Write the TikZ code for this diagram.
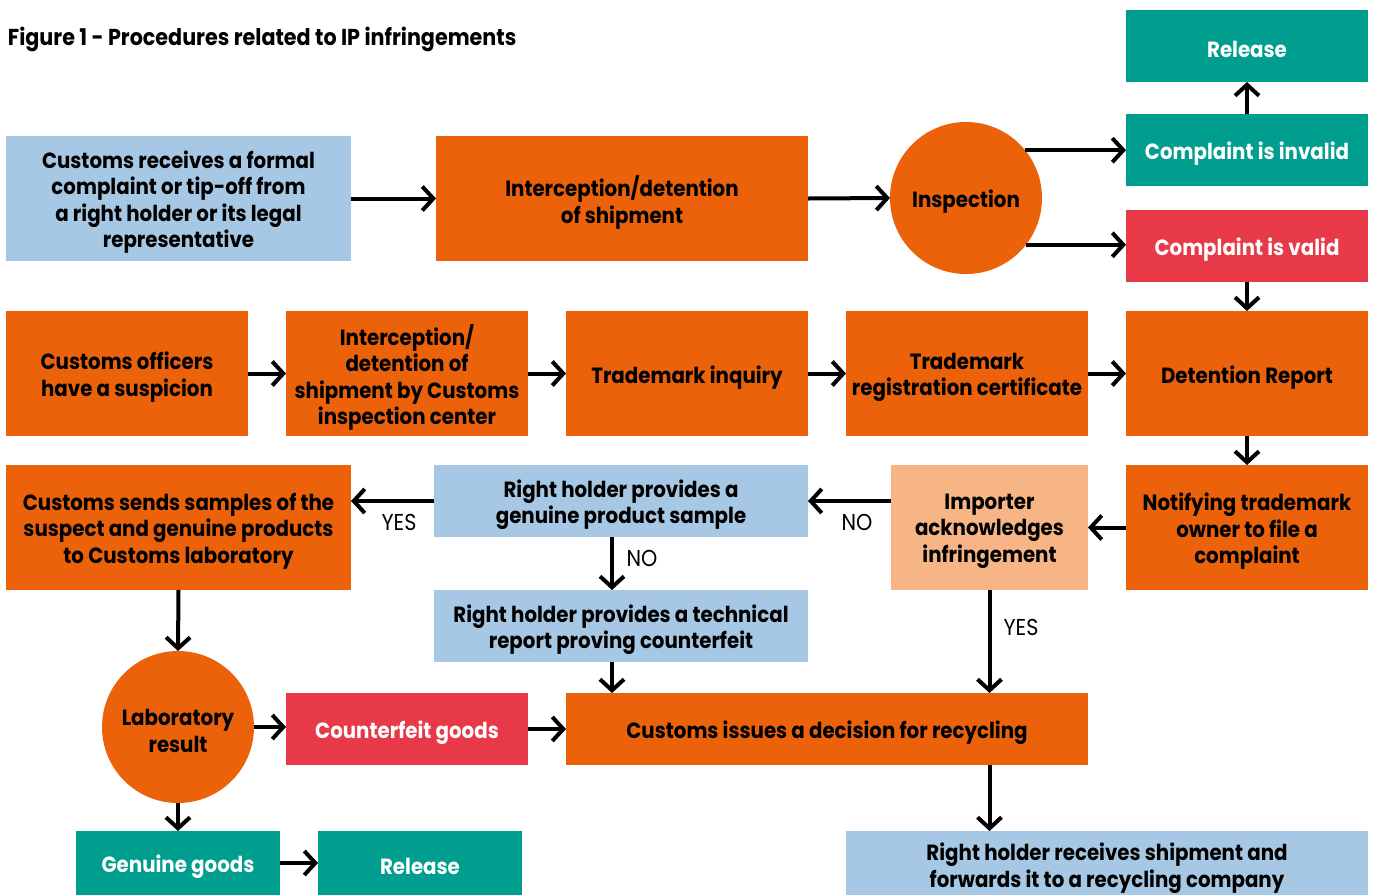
\documentclass[tikz,border=0pt]{standalone}
\usepackage{fontspec}
\setmainfont{Poppins}[FakeStretch=0.9]
\usetikzlibrary{arrows.meta}
\definecolor{cOrange}{RGB}{235,98,10}
\definecolor{cBlue}{RGB}{166,200,228}
\definecolor{cTeal}{RGB}{0,158,143}
\definecolor{cRed}{RGB}{232,57,72}
\definecolor{cPeach}{RGB}{247,181,133}
\begin{document}
\begin{tikzpicture}[x=1pt,y=-1pt,
  every node/.style={inner sep=0pt, outer sep=0pt},
  box/.style={rectangle},
  ofill/.style={fill=cOrange},
  bfill/.style={fill=cBlue},
  tfill/.style={fill=cTeal},
  rfill/.style={fill=cRed},
  pfill/.style={fill=cPeach},
  circ/.style={circle, fill=cOrange, minimum size=152pt},
  txt/.style={align=center, font=\bfseries\fontsize{22}{26.5}\selectfont},
  wtxt/.style={txt, text=white},
  arr/.style={line width=4pt, -{Straight Barb[length=11pt,width=24pt]}},
  lbl/.style={font=\fontsize{23}{26}\selectfont, anchor=center}
]
\useasboundingbox (0,0) rectangle (1375,895);

\node[anchor=base west, font=\bfseries\fontsize{23}{28}\selectfont] (title) at (8,45) {Figure 1 - Procedures related to IP infringements};

% row 1
\node[box,bfill,minimum width=345pt,minimum height=125pt] (n1) at (178.5,198.5) {};
\node[txt] (n1t) at ([yshift=-3.75pt]n1.center) {Customs receives a formal\\complaint or tip-off from\\a right holder or its legal\\representative};
\node[box,ofill,minimum width=372pt,minimum height=125pt] (n2) at (622,198.5) {};
\node[txt] (n2t) at ([yshift=-3.75pt]n2.center) {Interception/detention\\of shipment};
\node[circ] (insp) at (966,198) {};
\node[txt] (inspt) at ([yshift=-3.75pt]insp.center) {Inspection};
\node[box,tfill,minimum width=242pt,minimum height=72pt] (rel1) at (1247,46) {};
\node[wtxt] (rel1t) at ([yshift=-3.75pt]rel1.center) {Release};
\node[box,tfill,minimum width=242pt,minimum height=72pt] (inv) at (1247,150) {};
\node[wtxt] (invt) at ([yshift=-3.75pt]inv.center) {Complaint is invalid};
\node[box,rfill,minimum width=242pt,minimum height=72pt] (val) at (1247,246) {};
\node[wtxt] (valt) at ([yshift=-3.75pt]val.center) {Complaint is valid};

% row 2
\node[box,ofill,minimum width=242pt,minimum height=125pt] (r2a) at (127,373.5) {};
\node[txt] (r2at) at ([yshift=-3.75pt]r2a.center) {Customs officers\\have a suspicion};
\node[box,ofill,minimum width=242pt,minimum height=125pt] (r2b) at (407,373.5) {};
\node[txt] (r2bt) at ([yshift=-3.75pt]r2b.center) {Interception/\\detention of\\shipment by Customs\\inspection center};
\node[box,ofill,minimum width=242pt,minimum height=125pt] (r2c) at (687,373.5) {};
\node[txt] (r2ct) at ([yshift=-3.75pt]r2c.center) {Trademark inquiry};
\node[box,ofill,minimum width=242pt,minimum height=125pt] (r2d) at (967,373.5) {};
\node[txt] (r2dt) at ([yshift=-3.75pt]r2d.center) {Trademark\\registration certificate};
\node[box,ofill,minimum width=242pt,minimum height=125pt] (det) at (1247,373.5) {};
\node[txt] (dett) at ([yshift=-3.75pt]det.center) {Detention Report};

% row 3
\node[box,ofill,minimum width=345pt,minimum height=125pt] (samp) at (178.5,527.5) {};
\node[txt] (sampt) at ([yshift=-3.75pt]samp.center) {Customs sends samples of the\\suspect and genuine products\\to Customs laboratory};
\node[box,bfill,minimum width=374pt,minimum height=72pt] (gen) at (621,501) {};
\node[txt] (gent) at ([yshift=-3.75pt]gen.center) {Right holder provides a\\genuine product sample};
\node[box,pfill,minimum width=197pt,minimum height=125pt] (imp) at (989.5,527.5) {};
\node[txt] (impt) at ([yshift=-3.75pt]imp.center) {Importer\\acknowledges\\infringement};
\node[box,ofill,minimum width=242pt,minimum height=125pt] (notif) at (1247,527.5) {};
\node[txt] (notift) at ([yshift=-3.75pt]notif.center) {Notifying trademark\\owner to file a\\complaint};
\node[box,bfill,minimum width=374pt,minimum height=72pt] (tech) at (621,626) {};
\node[txt] (techt) at ([yshift=-3.75pt]tech.center) {Right holder provides a technical\\report proving counterfeit};

% row 4
\node[circ] (lab) at (178,727) {};
\node[txt] (labt) at ([yshift=-3.75pt]lab.center) {Laboratory\\result};
\node[box,rfill,minimum width=242pt,minimum height=72pt] (cf) at (407,729) {};
\node[wtxt] (cft) at ([yshift=-3.75pt]cf.center) {Counterfeit goods};
\node[box,ofill,minimum width=522pt,minimum height=72pt] (dec) at (827,729) {};
\node[txt] (dect) at ([yshift=-3.75pt]dec.center) {Customs issues a decision for recycling};

% row 5
\node[box,tfill,minimum width=204pt,minimum height=64pt] (gg) at (178,863) {};
\node[wtxt] (ggt) at ([yshift=-3.75pt]gg.center) {Genuine goods};
\node[box,tfill,minimum width=204pt,minimum height=64pt] (rel2) at (420,863) {};
\node[wtxt] (rel2t) at ([yshift=-3.75pt]rel2.center) {Release};
\node[box,bfill,minimum width=522pt,minimum height=64pt] (recv) at (1107,863) {};
\node[txt] (recvt) at ([yshift=-5pt]recv.center) {Right holder receives shipment and\\forwards it to a recycling company};

% arrows
\draw[arr] (n1.east) -- (n2.west);
\draw[arr] (n2.east) -- (insp.west);
\draw[arr] (insp.39) -- (insp.39 -| inv.west);
\draw[arr] (insp.-38) -- (insp.-38 -| val.west);
\draw[arr] (inv.north) -- (rel1.south);
\draw[arr] (val.south) -- (det.north);
\draw[arr] (r2a.east) -- (r2b.west);
\draw[arr] (r2b.east) -- (r2c.west);
\draw[arr] (r2c.east) -- (r2d.west);
\draw[arr] (r2d.east) -- (det.west);
\draw[arr] (det.south) -- (notif.north);
\draw[arr] (notif.west) -- (imp.east);
\draw[arr] (imp.west |- gen.east) -- (gen.east);
\draw[arr] (gen.west) -- (gen.west -| samp.east);
\draw[arr] ([xshift=-9pt]gen.south) -- ([xshift=-9pt]tech.north);
\draw[arr] ([xshift=-9pt]tech.south) -- ([xshift=-9pt]tech.south |- dec.north);
\draw[arr] (imp.south) -- (imp.south |- dec.north);
\draw[arr] (imp.south |- dec.south) -- (imp.south |- recv.north);
\draw[arr] (samp.south) -- (lab.north);
\draw[arr] (lab.east) -- (lab.east -| cf.west);
\draw[arr] (cf.east) -- (dec.west);
\draw[arr] (lab.south) -- (gg.north);
\draw[arr] (gg.east) -- (rel2.west);

% labels
\node[lbl] (yes1) at (399,522) {YES};
\node[lbl] (no1) at (857,522) {NO};
\node[lbl] (no2) at (642,558) {NO};
\node[lbl] (yes2) at (1021,627) {YES};
\end{tikzpicture}
\end{document}
